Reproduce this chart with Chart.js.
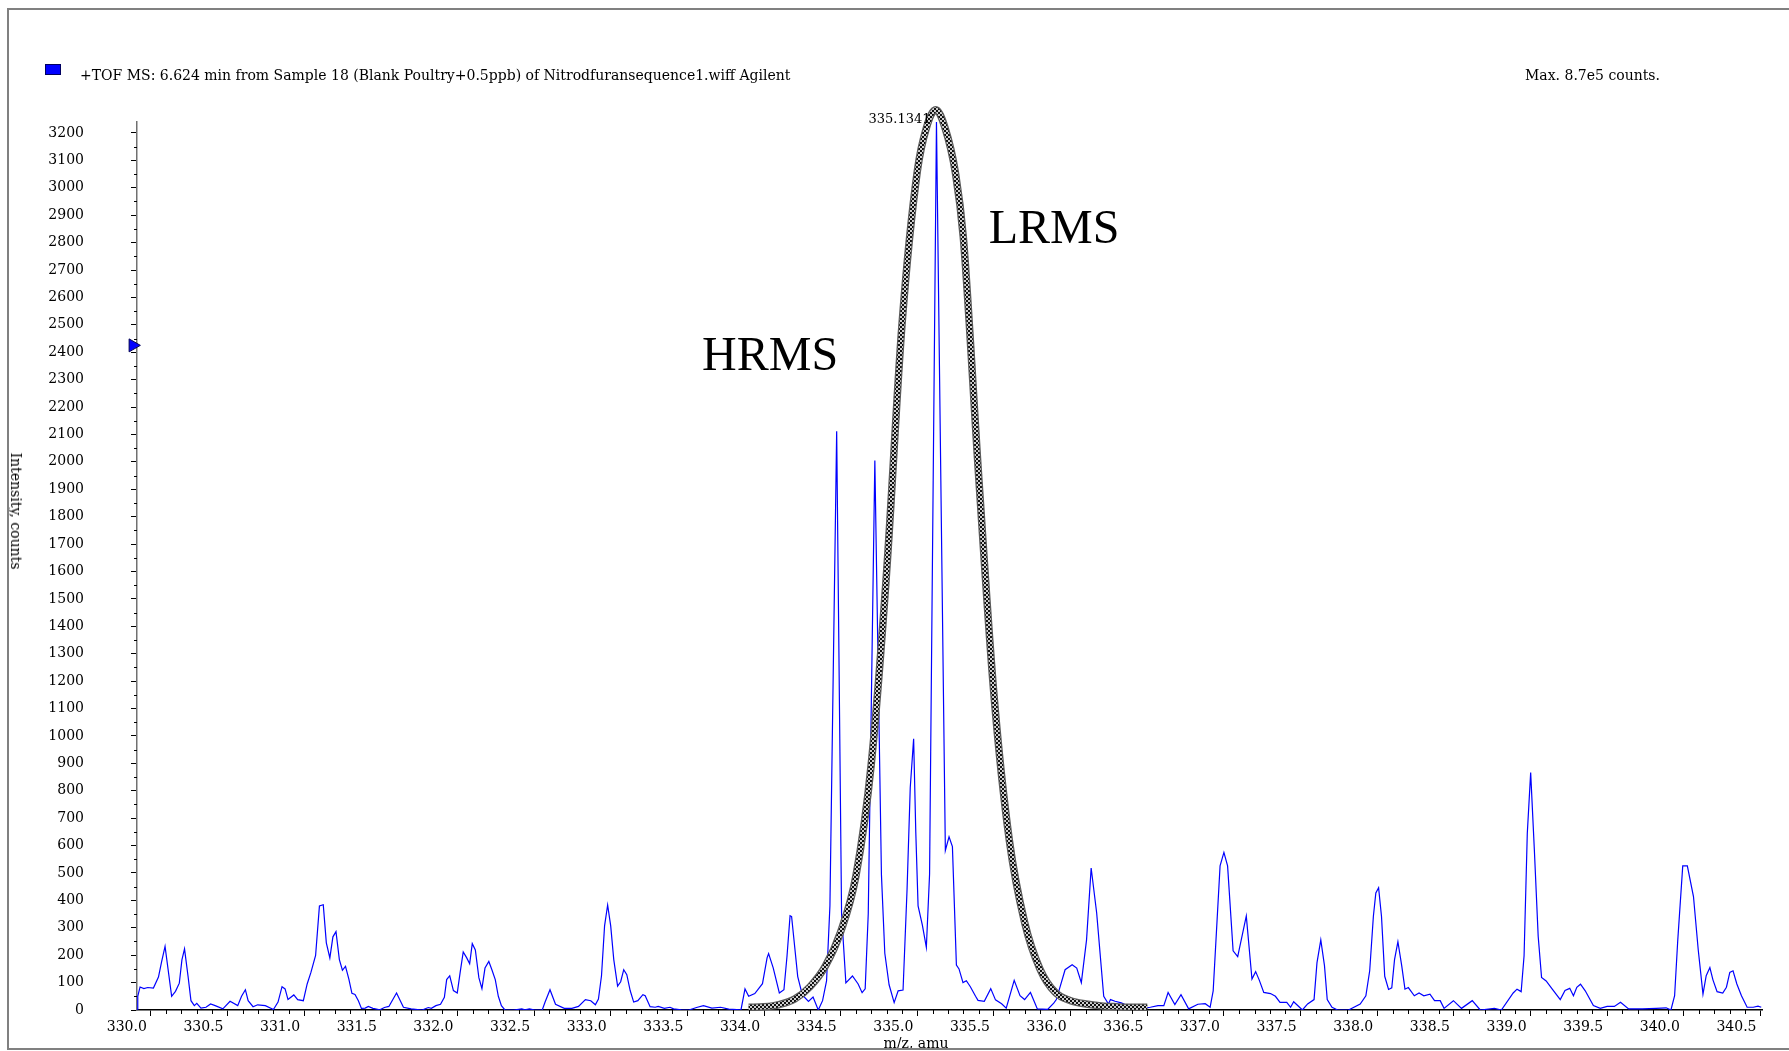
<!DOCTYPE html>
<html>
<head>
<meta charset="utf-8">
<title>TOF MS spectrum</title>
<script src="https://cdn.jsdelivr.net/npm/chart.js@4.4.1/dist/chart.umd.min.js"></script>
<style>
  html, body { margin: 0; padding: 0; background: #fff; }
  body { width: 1789px; height: 1051px; position: relative; overflow: hidden; font-family: "DejaVu Serif", serif; color: #000; }
  #c { position: absolute; left: 0; top: 0; }
  #frame { position: absolute; left: 7px; top: 8px; width: 1800px; height: 1042px; box-sizing: border-box; border: 2.5px solid #808080; pointer-events: none; z-index: 3; }
  .txt { position: absolute; white-space: nowrap; font-size: 14px; line-height: 16px; z-index: 2; }
  #swatch { position: absolute; left: 45px; top: 64px; width: 16px; height: 11px; box-sizing: border-box; background: #0000ff; border: 1px solid #000060; }
  #ytitle { left: 16px; top: 511px; transform: translate(-50%, -50%) rotate(90deg); }
  #xtitle { left: 916px; top: 1035px; transform: translateX(-50%); }
</style>
</head>
<body>
<canvas id="c" width="1789" height="1051"></canvas>
<div id="swatch"></div>
<div class="txt" style="left:80px; top:67px;">+TOF MS: 6.624 min from Sample 18 (Blank Poultry+0.5ppb) of Nitrodfuransequence1.wiff Agilent</div>
<div class="txt" style="left:1525px; top:67px;">Max. 8.7e5 counts.</div>
<div class="txt" id="ytitle">Intensity, counts</div>
<div class="txt" id="xtitle">m/z, amu</div>
<div id="frame"></div>
<script>
// HRMS trace (blue)
const mzValues = [
  329.91, 329.915, 329.93, 329.955, 329.98, 330.017, 330.05, 330.07, 330.093, 330.136,
  330.161, 330.186, 330.203, 330.22, 330.243, 330.262, 330.284, 330.30, 330.327, 330.36,
  330.39, 330.42, 330.47, 330.517, 330.567, 330.592, 330.617, 330.635, 330.667, 330.697,
  330.747, 330.80, 330.83, 330.856, 330.876, 330.895, 330.933, 330.958, 330.995, 331.02,
  331.045, 331.075, 331.10, 331.125, 331.145, 331.168, 331.188, 331.208, 331.23, 331.25,
  331.27, 331.292, 331.312, 331.332, 331.354, 331.374, 331.399, 331.419, 331.449, 331.494,
  331.524, 331.553, 331.603, 331.648, 331.698, 331.77, 331.81, 331.83, 331.86, 331.89,
  331.915, 331.93, 331.95, 331.974, 331.999, 332.018, 332.038, 332.06, 332.08, 332.097,
  332.117, 332.14, 332.16, 332.18, 332.205, 332.225, 332.247, 332.267, 332.287, 332.31,
  332.367, 332.42, 332.44, 332.47, 332.505, 332.554, 332.572, 332.604, 332.64, 332.697,
  332.747, 332.79, 332.835, 332.87, 332.90, 332.92, 332.94, 332.96, 332.98, 333.00,
  333.02, 333.045, 333.065, 333.085, 333.105, 333.127, 333.15, 333.177, 333.21, 333.225,
  333.257, 333.29, 333.31, 333.35, 333.387, 333.41, 333.46, 333.51, 333.56, 333.605,
  333.66, 333.717, 333.77, 333.85, 333.876, 333.90, 333.94, 333.99, 334.02, 334.03,
  334.06, 334.10, 334.13, 334.15, 334.17, 334.18, 334.22, 334.25, 334.29, 334.32,
  334.354, 334.382, 334.408, 334.43, 334.474, 334.506, 334.534, 334.577, 334.614, 334.64,
  334.66, 334.68, 334.723, 334.766, 334.788, 334.816, 334.849, 334.875, 334.907, 334.933,
  334.954, 334.976, 334.99, 335.005, 335.033, 335.059, 335.08, 335.125, 335.183, 335.207,
  335.229, 335.255, 335.272, 335.298, 335.32, 335.346, 335.38, 335.396, 335.437, 335.479,
  335.51, 335.55, 335.58, 335.632, 335.67, 335.70, 335.738, 335.783, 335.85, 335.89,
  335.907, 335.964, 336.01, 336.04, 336.07, 336.104, 336.134, 336.17, 336.216, 336.247,
  336.26, 336.29, 336.33, 336.37, 336.41, 336.477, 336.52, 336.57, 336.608, 336.636,
  336.68, 336.72, 336.77, 336.83, 336.878, 336.91, 336.93, 336.975, 337.00, 337.024,
  337.06, 337.09, 337.146, 337.183, 337.207, 337.23, 337.26, 337.304, 337.336, 337.366,
  337.41, 337.435, 337.455, 337.49, 337.512, 337.546, 337.588, 337.607, 337.632, 337.656,
  337.674, 337.705, 337.742, 337.813, 337.889, 337.926, 337.951, 337.975, 337.991, 338.009,
  338.028, 338.049, 338.074, 338.095, 338.113, 338.135, 338.16, 338.181, 338.203, 338.242,
  338.273, 338.304, 338.344, 338.374, 338.411, 338.436, 338.497, 338.55, 338.62, 338.672,
  338.764, 338.81, 338.887, 338.912, 338.939, 338.958, 338.979, 339.001, 339.025, 339.05,
  339.072, 339.102, 339.142, 339.194, 339.225, 339.256, 339.28, 339.302, 339.326, 339.357,
  339.41, 339.455, 339.50, 339.547, 339.587, 339.64, 339.73, 339.82, 339.885, 339.916,
  339.94, 339.96, 339.993, 340.023, 340.063, 340.094, 340.125, 340.146, 340.17, 340.19,
  340.217, 340.254, 340.278, 340.30, 340.321, 340.346, 340.376, 340.413, 340.453, 340.484,
  340.505
];
const intensityValues = [
  0, 50, 84, 78, 82, 80, 120, 175, 232, 50,
  68, 98, 183, 223, 123, 34, 16, 24, 7, 10,
  22, 16, 4, 32, 16, 50, 74, 34, 12, 19,
  16, 2, 29, 85, 77, 38, 55, 38, 34, 95,
  138, 199, 380, 384, 245, 190, 267, 286, 184, 145,
  159, 113, 61, 57, 34, 6, 7, 13, 6, 1,
  9, 13, 62, 10, 4, 0, 9, 6, 16, 21,
  46, 111, 125, 71, 62, 137, 212, 191, 169, 242,
  219, 118, 78, 153, 177, 147, 111, 50, 16, 0,
  0, 4, 1, 4, 0, 1, 29, 74, 21, 6,
  6, 13, 38, 34, 19, 40, 125, 307, 383, 307,
  184, 87, 103, 147, 129, 71, 29, 34, 56, 52,
  12, 10, 13, 6, 10, 4, 1, 0, 9, 16,
  7, 10, 3, 1, 77, 50, 60, 96, 190, 206,
  154, 62, 74, 196, 344, 341, 122, 55, 31, 47,
  0, 34, 106, 380, 2112, 351, 99, 124, 95, 63,
  77, 351, 2005, 494, 207, 92, 27, 70, 73, 438,
  812, 990, 650, 380, 310, 229, 495, 3240, 582, 632,
  596, 164, 150, 100, 107, 85, 50, 35, 32, 78,
  37, 23, 7, 108, 52, 38, 64, 4, 2, 25,
  38, 147, 165, 153, 100, 256, 518, 354, 50, 22,
  38, 32, 26, 16, 10, 6, 10, 16, 16, 64,
  20, 56, 4, 21, 23, 10, 70, 526, 575, 526,
  216, 195, 343, 113, 140, 110, 64, 60, 50, 28,
  28, 10, 30, 12, 0, 22, 38, 172, 256, 162,
  38, 10, 0, 0, 22, 52, 143, 342, 427, 446,
  341, 123, 75, 81, 184, 249, 161, 76, 82, 52,
  62, 52, 58, 34, 34, 6, 34, 6, 34, 0,
  6, 0, 62, 76, 67, 198, 645, 866, 585, 269,
  119, 106, 76, 38, 71, 79, 52, 83, 94, 70,
  16, 6, 13, 13, 28, 4, 4, 6, 8, 0,
  52, 250, 526, 526, 414, 220, 58, 125, 155, 110,
  67, 62, 83, 137, 143, 95, 52, 10, 10, 14,
  10
];

// LRMS envelope (thick checkered curve)
const lrmsMz = [
  333.90, 334.00, 334.10, 334.20, 334.30, 334.40, 334.50, 334.60, 334.70, 334.80,
  334.90, 335.00, 335.06, 335.12, 335.18, 335.25, 335.30, 335.40, 335.50, 335.60,
  335.70, 335.80, 335.90, 336.00, 336.10, 336.20, 336.30, 336.40, 336.50
];
const lrmsIntensity = [
  10, 12, 20, 40, 85, 160, 285, 490, 900, 1600,
  2500, 3060, 3220, 3285, 3220, 3050, 2820, 1950, 1150, 620,
  320, 150, 64, 34, 22, 15, 12, 10, 10
];

// x tick positions / labels
const xTickValues = [330.0, 330.5, 331.0, 331.5, 332.0, 332.5, 333.0, 333.5, 334.0, 334.5, 335.0,
  335.5, 336.0, 336.5, 337.0, 337.5, 338.0, 338.5, 339.0, 339.5, 340.0, 340.5];

const peakLabel = "335.1341";
const peakMz = 335.125;
const markerLevel = 2425;
const xMin = 329.91, xMax = 340.51;
const yMin = 0, yMax = 3240;

const points = mzValues.map((m, i) => ({ x: m, y: intensityValues[i] }));
const lrmsPoints = lrmsMz.map((m, i) => ({ x: m, y: lrmsIntensity[i] }));

const canvas = document.getElementById("c");
const ctx = canvas.getContext("2d");

// checkered stroke for the LRMS curve
const tile = document.createElement("canvas");
tile.width = 4; tile.height = 4;
const tctx = tile.getContext("2d");
tctx.fillStyle = "#101010"; tctx.fillRect(0, 0, 4, 4);
tctx.fillStyle = "#cfcfcf"; tctx.fillRect(0, 0, 2, 2); tctx.fillRect(2, 2, 2, 2);
const checker = ctx.createPattern(tile, "repeat");

const tickFont = { family: "DejaVu Serif", size: 14 };

// minor ticks + text annotations
const extras = {
  id: "extras",
  afterDatasetsDraw(chart) {
    const { ctx, scales: { x, y } } = chart;
    ctx.save();
    ctx.fillStyle = "#000";
    ctx.textBaseline = "alphabetic";
    ctx.font = "13px 'DejaVu Serif'";
    ctx.textAlign = "right";
    ctx.fillText(peakLabel, x.getPixelForValue(peakMz) - 6, y.getPixelForValue(3238));
    ctx.font = "48px 'Liberation Serif'";
    ctx.textAlign = "left";
    ctx.fillText("HRMS", x.getPixelForValue(333.596), y.getPixelForValue(2334));
    ctx.fillText("LRMS", x.getPixelForValue(335.466), y.getPixelForValue(2800));
    ctx.restore();
  },
  afterDraw(chart) {
    const { ctx, scales: { x, y } } = chart;
    ctx.save();
    ctx.strokeStyle = "#000";
    ctx.lineWidth = 1;
    ctx.beginPath();
    for (let t = 3300; t <= 3405; t++) {
      if (t % 5 === 0) continue;
      const px = Math.round(x.getPixelForValue(t / 10)) + 0.5;
      if (px < x.left || px > x.right) continue;
      ctx.moveTo(px, x.top);
      ctx.lineTo(px, x.top + 4);
    }
    for (let v = 50; v < yMax; v += 100) {
      const py = Math.round(y.getPixelForValue(v)) + 0.5;
      ctx.moveTo(y.right - 3, py);
      ctx.lineTo(y.right, py);
    }
    ctx.stroke();
    ctx.restore();
  }
};

new Chart(canvas, {
  type: "scatter",
  data: {
    datasets: [
      {
        label: "LRMS",
        data: lrmsPoints,
        showLine: true,
        borderColor: checker,
        borderWidth: 5,
        pointRadius: 0,
        cubicInterpolationMode: "monotone",
        clip: false,
        order: 0
      },
      {
        label: "LRMS edge",
        data: lrmsPoints,
        showLine: true,
        borderColor: "#5c5c5c",
        borderWidth: 7.5,
        pointRadius: 0,
        cubicInterpolationMode: "monotone",
        clip: false,
        order: 1
      },
      {
        label: "+TOF MS",
        data: points,
        showLine: true,
        borderColor: "#0000ff",
        borderWidth: 1.2,
        pointRadius: 0,
        tension: 0,
        order: 2
      },
      {
        label: "marker",
        data: [{ x: 329.883, y: markerLevel }],
        pointStyle: "triangle",
        rotation: 90,
        pointRadius: 7.5,
        backgroundColor: "#0000ff",
        borderColor: "#000050",
        borderWidth: 1,
        clip: false,
        order: 0
      }
    ]
  },
  options: {
    responsive: false,
    animation: false,
    devicePixelRatio: 1,
    layout: { padding: { left: 0, top: 122, right: 27, bottom: 0 } },
    plugins: { legend: { display: false }, tooltip: { enabled: false } },
    scales: {
      x: {
        type: "linear",
        min: xMin,
        max: xMax,
        border: { display: true, color: "#000", width: 1.5 },
        grid: { drawOnChartArea: false, drawTicks: true, tickLength: 6, tickColor: "#000" },
        ticks: {
          autoSkip: false,
          maxRotation: 0,
          labelOffset: -24,
          padding: 3,
          color: "#000",
          font: tickFont,
          callback: (v) => Number(v).toFixed(1)
        },
        afterBuildTicks(scale) { scale.ticks = xTickValues.map((v) => ({ value: v })); },
        afterFit(scale) { scale.height = 41; scale.paddingLeft = 0; scale.paddingRight = 0; }
      },
      y: {
        type: "linear",
        min: yMin,
        max: yMax,
        border: { display: true, color: "#707070", width: 1.5 },
        grid: { drawOnChartArea: false, drawTicks: true, tickLength: 6, tickColor: "#000" },
        ticks: {
          stepSize: 100,
          includeBounds: false,
          autoSkip: false,
          padding: 47,
          color: "#000",
          font: tickFont,
          callback: (v) => String(v)
        },
        afterFit(scale) { scale.width = 137; scale.paddingTop = 0; scale.paddingBottom = 0; }
      }
    }
  },
  plugins: [extras]
});
</script>
</body>
</html>
